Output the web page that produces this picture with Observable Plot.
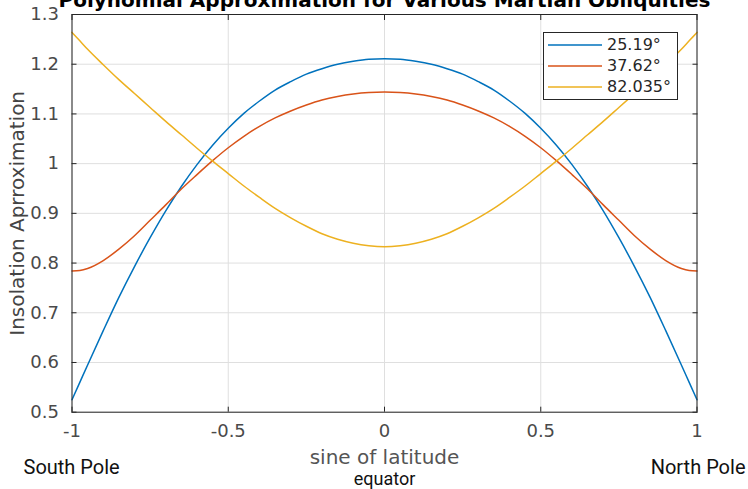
<!DOCTYPE html>
<html>
<head>
<meta charset="utf-8">
<script src="https://cdn.jsdelivr.net/npm/d3@7"></script>
<script src="https://cdn.jsdelivr.net/npm/@observablehq/plot@0.6"></script>
<style>
  html, body { margin: 0; padding: 0; background: #fff; }
  #wrap { position: relative; width: 748px; height: 489px; overflow: hidden; }
  #legend { position: absolute; left: 543px; top: 32px; width: 133px; height: 66px;
            border: 1px solid #262626; background: #fff; font-family: "DejaVu Sans"; font-size: 16px; color: #262626; }
  .row { position: absolute; left: 0; height: 20px; width: 133px; }
  .row svg { position: absolute; left: 4px; top: 0; }
  .row span { position: absolute; left: 63px; top: 0; line-height: 20px; }
</style>
</head>
<body>
<div id="wrap"><div id="legend"></div></div>
<script>
// sine of latitude sample points
const xs = [-1,-0.975,-0.95,-0.9,-0.85,-0.8,-0.75,-0.7,-0.65,-0.6,-0.55,-0.5,-0.45,-0.4,-0.35,-0.3,-0.25,-0.2,-0.15,-0.1,-0.05,0,
            0.05,0.1,0.15,0.2,0.25,0.3,0.35,0.4,0.45,0.5,0.55,0.6,0.65,0.7,0.75,0.8,0.85,0.9,0.95,0.975,1];
// series values
const series = ["25.19°", "37.62°", "82.035°"];
const colors = ["#0072BD", "#D95319", "#EDB120"];
const v25 = [0.525,0.560,0.595,0.664,0.731,0.793,0.851,0.905,0.954,0.998,1.037,1.071,1.101,1.126,1.148,1.165,1.180,1.191,1.200,1.206,1.210,1.211,
             1.210,1.206,1.200,1.191,1.180,1.165,1.148,1.126,1.101,1.071,1.037,0.998,0.954,0.905,0.851,0.793,0.731,0.664,0.595,0.560,0.525];
const v37 = [0.784,0.785,0.789,0.805,0.828,0.855,0.886,0.917,0.949,0.978,1.006,1.032,1.055,1.075,1.092,1.106,1.118,1.128,1.135,1.140,1.143,1.144,
             1.143,1.140,1.135,1.128,1.118,1.106,1.092,1.075,1.055,1.032,1.006,0.978,0.949,0.917,0.886,0.855,0.828,0.805,0.789,0.785,0.784];
const v82 = [1.264,1.247,1.230,1.199,1.169,1.141,1.113,1.085,1.058,1.031,1.005,0.980,0.955,0.932,0.910,0.891,0.874,0.859,0.848,0.840,0.835,0.833,
             0.835,0.840,0.848,0.859,0.874,0.891,0.910,0.932,0.955,0.980,1.005,1.031,1.058,1.085,1.113,1.141,1.169,1.199,1.230,1.247,1.264];
// ticks
const xTicks = [-1,-0.5,0,0.5,1];
const xTickLabels = ["-1","-0.5","0","0.5","1"];
const yTicks = [0.5,0.6,0.7,0.8,0.9,1,1.1,1.2,1.3];
const yTickLabels = ["0.5","0.6","0.7","0.8","0.9","1","1.1","1.2","1.3"];

const title = "Polynomial Approximation for Various Martian Obliquities";
const xLabel = "sine of latitude";
const yLabel = "Insolation Aprroximation";

const values = [v25, v37, v82];
const data = [];
series.forEach((s, k) => xs.forEach((x, i) => data.push({series: s, x, v: values[k][i]})));

const tickColor = "#262626";
const plot = Plot.plot({
  width: 748,
  height: 489,
  marginLeft: 71.5,
  marginRight: 51.5,
  marginTop: 14,
  marginBottom: 77.3,
  style: {fontFamily: "DejaVu Sans", fontSize: "18px", color: "#4a4a4a", background: "#fff", overflow: "visible"},
  x: {domain: [-1, 1], label: null},
  y: {domain: [0.5, 1.3], label: null},
  color: {domain: series, range: colors},
  marks: [
    Plot.gridX(xTicks, {stroke: "#dfdfdf", strokeOpacity: 1}),
    Plot.gridY(yTicks, {stroke: "#dfdfdf", strokeOpacity: 1}),
    Plot.line(data, {x: "x", y: "v", z: "series", stroke: "series", curve: "monotone-x", strokeWidth: 1.5}),
    Plot.frame({stroke: tickColor, strokeWidth: 1}),
    // inward ticks on all four sides
    Plot.axisX(xTicks, {anchor: "bottom", tickSize: -5, stroke: tickColor, tickFormat: () => "", label: null}),
    Plot.axisX(xTicks, {anchor: "top", tickSize: -5, stroke: tickColor, tickFormat: () => "", label: null}),
    Plot.axisY(yTicks, {anchor: "left", tickSize: -5, stroke: tickColor, tickFormat: () => "", label: null}),
    Plot.axisY(yTicks, {anchor: "right", tickSize: -5, stroke: tickColor, tickFormat: () => "", label: null}),
    // tick labels
    Plot.axisX(xTicks, {anchor: "bottom", tickSize: 0, tickPadding: 12, fontSize: 18, fill: "#4a4a4a",
      tickFormat: d => xTickLabels[xTicks.indexOf(d)], label: null}),
    Plot.axisY(yTicks, {anchor: "left", tickSize: 0, tickPadding: 13, fontSize: 18, fill: "#4a4a4a",
      tickFormat: d => yTickLabels[yTicks.indexOf(d)], label: null}),
    // titles and labels
    Plot.text([title], {frameAnchor: "top", dy: -8, lineAnchor: "bottom", fontSize: 20, fontWeight: "bold", fill: "#000"}),
    Plot.text([xLabel], {frameAnchor: "bottom", dy: 45, lineAnchor: "middle", fontSize: 20, fill: "#555"}),
    Plot.text([yLabel], {frameAnchor: "left", dx: -54.5, rotate: -90, textAnchor: "middle", lineAnchor: "middle", fontSize: 20, fill: "#444"}),
    Plot.text(["equator"], {frameAnchor: "bottom", dy: 67, lineAnchor: "middle", fontSize: 18, fontFamily: "Roboto", fill: "#111"}),
    Plot.text(["South Pole"], {frameAnchor: "bottom-left", dx: -48.5, dy: 55.5, textAnchor: "start", lineAnchor: "middle", fontSize: 20, fontFamily: "Roboto", fill: "#111"}),
    Plot.text(["North Pole"], {frameAnchor: "bottom-right", dx: 48.5, dy: 55.5, textAnchor: "end", lineAnchor: "middle", fontSize: 20, fontFamily: "Roboto", fill: "#111"})
  ]
});
document.getElementById("wrap").insertBefore(plot, document.getElementById("legend"));

// legend
const legend = document.getElementById("legend");
const rowTops = [1.5, 22.5, 44];
series.forEach((s, i) => {
  const row = document.createElement("div");
  row.className = "row";
  row.style.top = rowTops[i] + "px";
  row.innerHTML = `<svg width="56" height="20"><line x1="0" x2="54" y1="10" y2="10" stroke="${colors[i]}" stroke-width="1.5"/></svg><span>${s}</span>`;
  legend.appendChild(row);
});
</script>
</body>
</html>
